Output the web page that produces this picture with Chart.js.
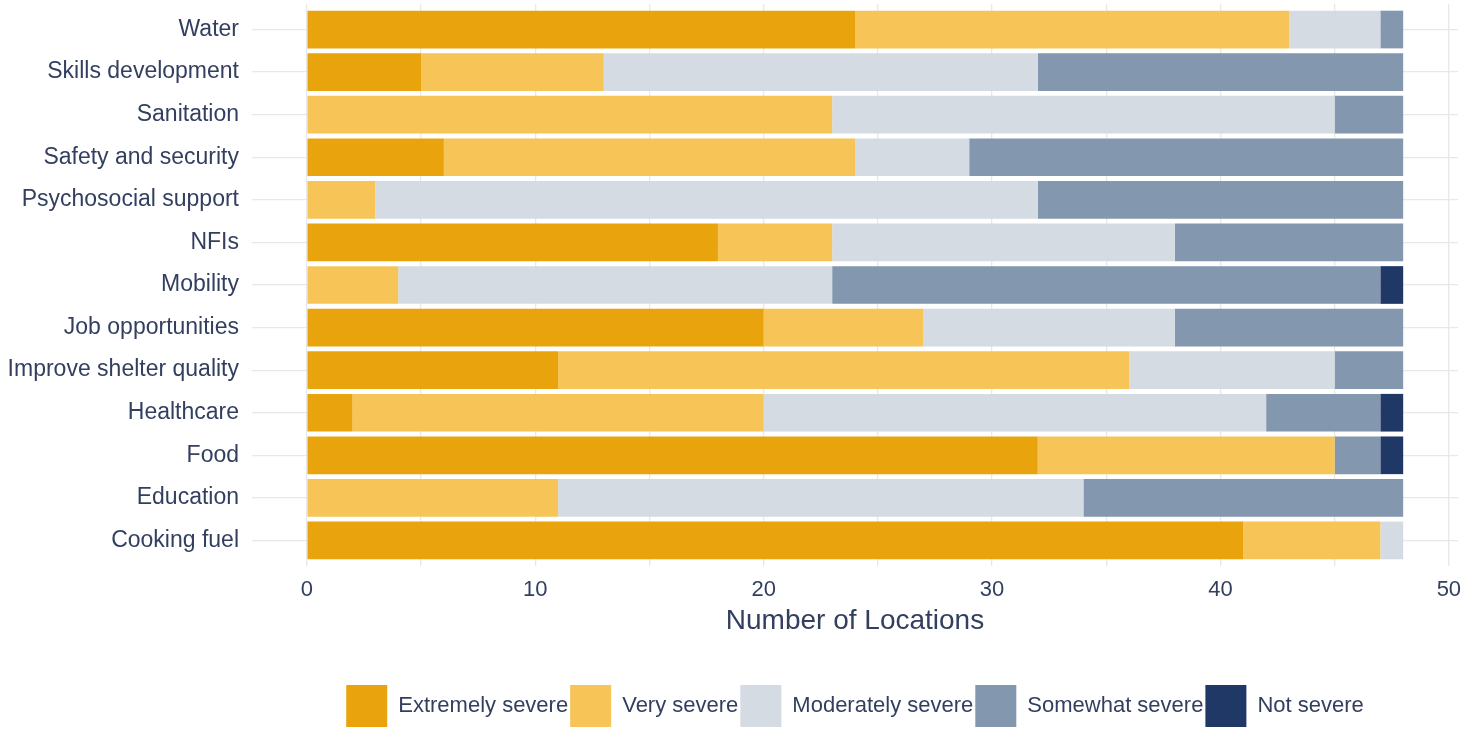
<!DOCTYPE html>
<html>
<head>
<meta charset="utf-8">
<script src="https://cdn.jsdelivr.net/npm/chart.js@4.4.0/dist/chart.umd.min.js"></script>
<style>
    html, body { margin: 0; padding: 0; background: #fff; }
    #wrap { width: 1478px; height: 730px; position: relative; }
</style>
</head>
<body>
<div id="wrap"><canvas id="severityChart"></canvas></div>
<script>
// categories, top to bottom
const categories = ['Water', 'Skills development', 'Sanitation', 'Safety and security',
    'Psychosocial support', 'NFIs', 'Mobility', 'Job opportunities',
    'Improve shelter quality', 'Healthcare', 'Food', 'Education', 'Cooking fuel'];

// number of locations per severity level
const extremelySevere  = [24, 5, 0, 6, 0, 18, 0, 20, 11, 2, 32, 0, 41];
const verySevere       = [19, 8, 23, 18, 3, 5, 4, 7, 25, 18, 13, 11, 6];
const moderatelySevere = [4, 19, 22, 5, 29, 15, 19, 11, 9, 22, 0, 23, 1];
const somewhatSevere   = [1, 16, 3, 19, 16, 10, 24, 10, 3, 5, 2, 14, 0];
const notSevere        = [0, 0, 0, 0, 0, 0, 1, 0, 0, 1, 1, 0, 0];

const xTicks = [0, 5, 10, 15, 20, 25, 30, 35, 40, 45, 50];

const textColor = '#323f5f';
const gridColor = '#e8e8e8';
const fontFamily = '"Liberation Sans", Arial, sans-serif';

// centre the legend under the plot panel (like ggplot does)
const legendUnderPanel = {
    id: 'legendUnderPanel',
    afterLayout(chart) {
        const lg = chart.legend;
        lg.left = chart.chartArea.left;
        lg.right = chart.chartArea.right;
        lg.width = lg.right - lg.left;
    }
};

const ctx = document.getElementById('severityChart').getContext('2d');
new Chart(ctx, {
    type: 'bar',
    data: {
        labels: categories,
        datasets: [
            { label: 'Extremely severe', data: extremelySevere, backgroundColor: '#e9a30c' },
            { label: 'Very severe', data: verySevere, backgroundColor: '#f6c457' },
            { label: 'Moderately severe', data: moderatelySevere, backgroundColor: '#d5dbe2' },
            { label: 'Somewhat severe', data: somewhatSevere, backgroundColor: '#8397ae' },
            { label: 'Not severe', data: notSevere, backgroundColor: '#1f3866' }
        ]
    },
    options: {
        indexAxis: 'y',
        responsive: true,
        maintainAspectRatio: false,
        animation: false,
        datasets: {
            bar: { barPercentage: 0.885, categoryPercentage: 1, borderWidth: 0 }
        },
        layout: { padding: { top: 4, right: 20, bottom: -7, left: 0 } },
        plugins: {
            tooltip: { enabled: false },
            legend: {
                position: 'bottom',
                align: 'center',
                labels: {
                    boxWidth: 41,
                    boxHeight: 42,
                    padding: 2,
                    color: textColor,
                    font: { family: fontFamily, size: 22 }
                }
            }
        },
        scales: {
            x: {
                stacked: true,
                min: -2.4,
                max: 50.4,
                afterBuildTicks: axis => {
                    axis.ticks = xTicks.map(v => ({ value: v }));
                },
                afterFit: axis => {
                    axis.height = 117;
                    axis.paddingLeft = 0;
                    axis.paddingRight = 0;
                },
                grid: { color: gridColor, lineWidth: 1.3, drawTicks: false },
                border: { display: false },
                ticks: {
                    padding: 11,
                    color: textColor,
                    font: { family: fontFamily, size: 22 },
                    callback: v => (v % 10 === 0 ? v : '')
                },
                title: {
                    display: true,
                    text: 'Number of Locations',
                    color: textColor,
                    font: { family: fontFamily, size: 28 },
                    padding: { top: 4, bottom: 45 }
                }
            },
            y: {
                stacked: true,
                offset: false,
                afterBuildTicks: axis => {
                    // discrete axis expansion of 0.6 like ggplot
                    axis._startValue = -0.6;
                    axis._valueRange = categories.length - 1 + 1.2;
                },
                afterFit: axis => {
                    axis.width = 252;
                    axis.paddingTop = 0;
                    axis.paddingBottom = 0;
                },
                grid: { color: gridColor, lineWidth: 1.3, drawTicks: false, offset: false },
                border: { display: false },
                ticks: {
                    padding: 13,
                    color: textColor,
                    font: { family: fontFamily, size: 23 }
                }
            }
        }
    },
    plugins: [legendUnderPanel]
});
</script>
</body>
</html>
